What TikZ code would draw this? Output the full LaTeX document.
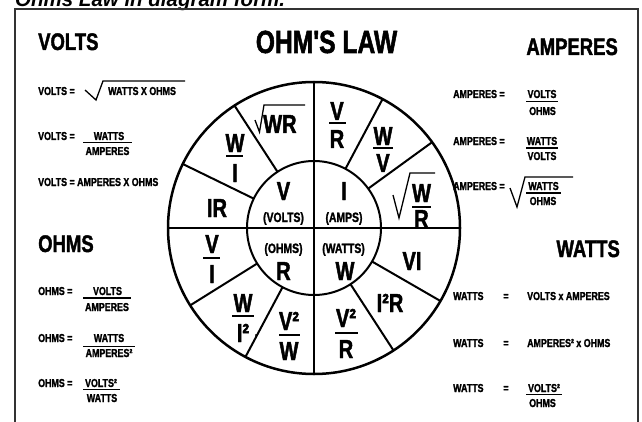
\documentclass[tikz,border=0pt]{standalone}
\usepackage{fontspec}
\setmainfont{Liberation Sans}
\newfontfamily\ohmfont{Liberation Sans}[FakeStretch=0.77, BoldFeatures={FakeBold=1.6}]

\tikzset{
  caption/.style={font=\fontsize{20.5}{22}\selectfont\bfseries\itshape, inner sep=0pt, anchor=base west},
  ohmhead/.style={font=\ohmfont\bfseries\fontsize{24}{26}\selectfont, inner sep=0pt},
  ohmtxt/.style={font=\ohmfont\bfseries\fontsize{11.5}{12}\selectfont, inner sep=0pt},
  wheeltxt/.style={font=\ohmfont\bfseries\fontsize{26}{28}\selectfont, inner sep=0pt, anchor=base},
  wheelsmall/.style={font=\ohmfont\bfseries\fontsize{13.5}{15}\selectfont, inner sep=0pt, anchor=base},
  bar/.style={line width=1.3pt},
  wheelbar/.style={line width=2pt},
}

\begin{document}
\begin{tikzpicture}[x=1pt,y=1pt]
  \useasboundingbox (0,0) rectangle (642,421);

  % Caption (cut off at the top)
  \node[caption] (cap) at (15,414) {Ohms Law in diagram form.};

  % Frame
  \draw[line width=2.5pt, black!80] (15,-5) -- (15,412) -- (638,412) -- (638,-5);

  % Headings
  \node[ohmhead, anchor=base] (title) at (326.5,368) {\fontsize{32}{34}\selectfont OHM'S LAW};
  \node[ohmhead, anchor=base west] (hvolts) at (38,371) {VOLTS};
  \node[ohmhead, anchor=base east] (hamps) at (618,366) {AMPERES};
  \node[ohmhead, anchor=base west] (hohms) at (38,169) {OHMS};
  \node[ohmhead, anchor=base east] (hwatts) at (620,164) {WATTS};

  % Volts
  \node[ohmtxt, anchor=base west] (v1) at (38,326) {VOLTS =};
  \node[ohmtxt, anchor=base west] (v1r) at (108,326) {WATTS X OHMS};
  \draw[line width=1.3pt] (85,331) -- (96,321) -- (103,340) -- (185,340);
  \node[ohmtxt, anchor=base west] (v2) at (38,281) {VOLTS =};
  \node[ohmtxt, anchor=base] (v2n) at (109,281) {WATTS};
  \draw[bar] (83,278.5) -- (132,278.5);
  \node[ohmtxt, anchor=base] (v2d) at (107.5,266) {AMPERES};
  \node[ohmtxt, anchor=base west] (v3) at (38,235) {VOLTS = AMPERES X OHMS};

  % Ohms
  \node[ohmtxt, anchor=base west] (o1) at (38,126) {OHMS =};
  \node[ohmtxt, anchor=base] (o1n) at (107.5,126) {VOLTS};
  \draw[bar] (83,123) -- (131,123);
  \node[ohmtxt, anchor=base] (o1d) at (107,110) {AMPERES};
  \node[ohmtxt, anchor=base west] (o2) at (38,79) {OHMS =};
  \node[ohmtxt, anchor=base] (o2n) at (109,79) {WATTS};
  \draw[bar] (83,74.5) -- (135,74.5);
  \node[ohmtxt, anchor=base] (o2d) at (109,64) {AMPERES²};
  \node[ohmtxt, anchor=base west] (o3) at (38,34) {OHMS =};
  \node[ohmtxt, anchor=base] (o3n) at (101,34) {VOLTS²};
  \draw[bar] (83,31.5) -- (120,31.5);
  \node[ohmtxt, anchor=base] (o3d) at (102,19) {WATTS};

  % Amperes
  \node[ohmtxt, anchor=base west] (a1) at (453,323) {AMPERES =};
  \node[ohmtxt, anchor=base] (a1n) at (542,323) {VOLTS};
  \draw[bar] (526,319.5) -- (558,319.5);
  \node[ohmtxt, anchor=base] (a1d) at (542.5,306) {OHMS};
  \node[ohmtxt, anchor=base west] (a2) at (453,276) {AMPERES =};
  \node[ohmtxt, anchor=base] (a2n) at (542,276) {WATTS};
  \draw[bar] (526,273) -- (558,273);
  \node[ohmtxt, anchor=base] (a2d) at (542,261) {VOLTS};
  \node[ohmtxt, anchor=base west] (a3) at (453,231) {AMPERES =};
  \node[ohmtxt, anchor=base] (a3n) at (543.5,231) {WATTS};
  \draw[bar] (526,228) -- (561,228);
  \node[ohmtxt, anchor=base] (a3d) at (543,216) {OHMS};
  \draw[line width=1.3pt] (510,233) -- (517,214) -- (525,244) -- (573,244);

  % Watts
  \node[ohmtxt, anchor=base west] (w1) at (453,121) {WATTS};
  \node[ohmtxt, anchor=base] (w1e) at (506,121) {=};
  \node[ohmtxt, anchor=base west] (w1r) at (527,121) {VOLTS x AMPERES};
  \node[ohmtxt, anchor=base west] (w2) at (453,74) {WATTS};
  \node[ohmtxt, anchor=base] (w2e) at (506,74) {=};
  \node[ohmtxt, anchor=base west] (w2r) at (527,74) {AMPERES² x OHMS};
  \node[ohmtxt, anchor=base west] (w3) at (453,29) {WATTS};
  \node[ohmtxt, anchor=base] (w3e) at (506,29) {=};
  \node[ohmtxt, anchor=base] (w3n) at (544,29) {VOLTS²};
  \draw[bar] (526,26.5) -- (562,26.5);
  \node[ohmtxt, anchor=base] (w3d) at (542.5,14) {OHMS};

  % Wheel
  \draw[line width=2.5pt] (314,193) circle (146);
  \draw[line width=2pt] (314,193) circle (67);
  \draw[line width=2pt] (168,193) -- (460,193) (314,47) -- (314,339);
  \begin{scope}[shift={(314,193)}, line width=2pt]
    \draw (36:67) -- (36:146) (62:67) -- (62:146);
    \draw (123:67) -- (123:146) (154:67) -- (154:146);
    \draw (212:67) -- (212:146) (242:67) -- (242:146);
    \draw (303:67) -- (303:146) (330:67) -- (330:146);
  \end{scope}

  % Wheel: volts quarter
  \node[wheeltxt] (cv) at (283.5,221) {V};
  \node[wheelsmall] (cvl) at (283.5,199) {(VOLTS)};
  \node[wheeltxt, anchor=base west] (cwr) at (263,288) {WR};
  \draw[line width=1.3pt] (255,301) -- (259.5,289) -- (264,316) -- (305,316);
  \node[wheeltxt] (cwi1) at (235,269) {W};
  \draw[wheelbar] (226,265) -- (243,265);
  \node[wheeltxt] (cwi2) at (235,239) {I};
  \node[wheeltxt] (cir) at (217,204) {IR};

  % Wheel: amps quarter
  \node[wheeltxt] (ci) at (344,221) {I};
  \node[wheelsmall] (cil) at (344,199) {(AMPS)};
  \node[wheeltxt] (cvr1) at (337,301) {V};
  \draw[wheelbar] (329,298) -- (346,298);
  \node[wheeltxt] (cvr2) at (337,273) {R};
  \node[wheeltxt] (cwv1) at (383,276) {W};
  \draw[wheelbar] (373,273) -- (393,273);
  \node[wheeltxt] (cwv2) at (383,249) {V};
  \node[wheeltxt] (cwr1) at (421.5,219) {W};
  \draw[wheelbar] (412,214) -- (431,214);
  \node[wheeltxt] (cwr2) at (421.5,193) {R};
  \draw[line width=1.3pt] (393,226) -- (399,203) -- (410,248) -- (435,248);

  % Wheel: ohms quarter
  \node[wheelsmall] (crl) at (283.5,168) {(OHMS)};
  \node[wheeltxt] (cr) at (283.5,141) {R};
  \node[wheeltxt] (cvi1) at (212,168) {V};
  \draw[wheelbar] (203,163) -- (220,163);
  \node[wheeltxt] (cvi2) at (212,138) {I};
  \node[wheeltxt] (cwii1) at (243,109) {W};
  \draw[wheelbar] (232,105) -- (254,105);
  \node[wheeltxt] (cwii2) at (243,79) {I²};
  \node[ohmtxt, anchor=base] (ccomma) at (256,85) {,};
  \node[wheeltxt] (cvw1) at (289,91) {V²};
  \draw[wheelbar] (279,86) -- (300,86);
  \node[wheeltxt] (cvw2) at (289,61) {W};

  % Wheel: watts quarter
  \node[wheelsmall] (cwl) at (343.5,168) {(WATTS)};
  \node[wheeltxt] (cw) at (345,141) {W};
  \node[wheeltxt] (cvi) at (412,151) {VI};
  \node[wheeltxt] (cirr) at (390,109) {I²R};
  \node[wheeltxt] (cvrr1) at (346,94) {V²};
  \draw[wheelbar] (335,88) -- (358,88);
  \node[wheeltxt] (cvrr2) at (346,63) {R};

\end{tikzpicture}
\end{document}
